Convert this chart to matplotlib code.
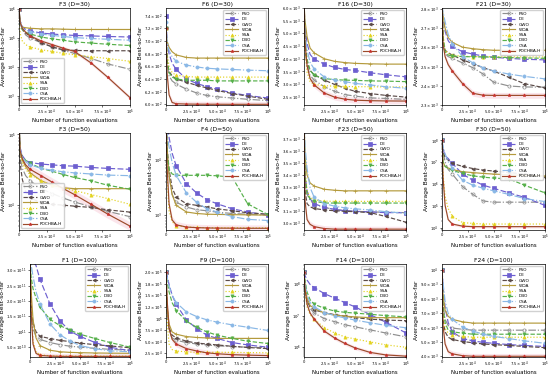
import numpy as np
import matplotlib
matplotlib.use("Agg")
import matplotlib.pyplot as plt
from matplotlib.ticker import FixedLocator, FixedFormatter, NullLocator

# evaluation checkpoints (thousands of function evaluations)
evals = np.array([0, 1, 3, 6, 10, 20, 30, 40, 50, 65, 80, 100]) * 1e3

algos = ["PSO", "DE", "GWO", "WOA", "SSA", "DBO", "CSA", "POCHBA-H"]

# --- F3 (D=30) ---
f3_30 = [
    [1e6, 4e5, 2e5, 1.3e5, 1e5, 7e4, 5e4, 3.8e4, 3e4, 2e4, 1.3e4, 8.5e3],
    [1e6, 4e5, 2.5e5, 2e5, 1.8e5, 1.5e5, 1.4e5, 1.3e5, 1.25e5, 1.2e5, 1.15e5, 1.1e5],
    [1e6, 3e5, 2e5, 1.5e5, 1.2e5, 7e4, 5e4, 4e4, 3.8e4, 3.7e4, 3.7e4, 3.7e4],
    [1e6, 3e5, 2.4e5, 2.3e5, 2.2e5, 2.1e5, 2.1e5, 2.05e5, 2e5, 2e5, 2e5, 2e5],
    [1e6, 1.5e5, 8e4, 6e4, 5e4, 4e4, 3.5e4, 3e4, 2.7e4, 2.3e4, 2e4, 1.6e4],
    [1e6, 3e5, 2e5, 1.6e5, 1.4e5, 1.1e5, 9.5e4, 8.5e4, 7.5e4, 6.8e4, 6.2e4, 5.6e4],
    [1e6, 3e5, 2.2e5, 1.9e5, 1.7e5, 1.4e5, 1.25e5, 1.15e5, 1.05e5, 9.8e4, 9.2e4, 8.5e4],
    [1e6, 3.5e5, 2.2e5, 1.6e5, 1.2e5, 8e4, 6e4, 4.5e4, 3.5e4, 1.4e4, 4.5e3, 9e2],
]
# --- F6 (D=30) ---
f6_30 = [
    [720, 665, 645, 637, 632, 624, 618, 614, 612, 610, 608, 606],
    [740, 700, 680, 665, 655, 640, 633, 628, 624, 618, 614, 610],
    [720, 670, 652, 645, 640, 635, 630, 626, 622, 617, 613, 608],
    [720, 700, 690, 683, 678, 674, 673, 673, 673, 673, 673, 673],
    [720, 680, 660, 650, 646, 644, 643, 643, 643, 643, 643, 643],
    [720, 670, 650, 643, 640, 638, 638, 638, 637, 637, 637, 637],
    [730, 700, 685, 675, 668, 662, 659, 657, 656, 655, 654, 653],
    [720, 650, 615, 603, 601, 600.5, 600.3, 600.2, 600.2, 600.1, 600.1, 600.1],
]
# --- F16 (D=30) ---
f16_30 = [
    [6200, 4360, 3730, 3350, 3160, 2900, 2720, 2590, 2530, 2460, 2440, 2400],
    [6200, 5250, 4610, 4170, 3980, 3790, 3660, 3580, 3540, 3450, 3370, 3290],
    [6200, 4490, 3850, 3540, 3370, 3160, 2990, 2840, 2720, 2630, 2560, 2490],
    [6200, 5500, 4870, 4420, 4230, 4000, 3900, 3850, 3820, 3800, 3790, 3790],
    [6200, 4360, 3470, 3100, 2990, 2940, 2920, 2910, 2900, 2900, 2890, 2890],
    [6200, 4740, 3980, 3540, 3350, 3220, 3180, 3160, 3150, 3130, 3120, 3100],
    [6200, 4990, 4360, 3850, 3600, 3280, 3160, 3100, 3030, 2970, 2900, 2840],
    [6200, 4610, 3730, 3220, 2970, 2650, 2490, 2410, 2370, 2350, 2340, 2335],
]
# --- F21 (D=30) ---
f21_30 = [
    [2820, 2618, 2568, 2552, 2543, 2519, 2494, 2461, 2419, 2399, 2394, 2393],
    [2820, 2750, 2684, 2635, 2605, 2577, 2565, 2555, 2548, 2543, 2538, 2535],
    [2820, 2635, 2585, 2572, 2560, 2535, 2515, 2494, 2477, 2444, 2411, 2389],
    [2820, 2767, 2700, 2651, 2626, 2601, 2593, 2588, 2585, 2585, 2585, 2585],
    [2820, 2668, 2585, 2568, 2560, 2553, 2552, 2552, 2551, 2551, 2550, 2550],
    [2820, 2651, 2577, 2560, 2555, 2552, 2551, 2550, 2549, 2547, 2545, 2543],
    [2820, 2784, 2734, 2668, 2618, 2552, 2519, 2494, 2477, 2461, 2449, 2436],
    [2820, 2618, 2552, 2510, 2477, 2411, 2361, 2351, 2350, 2350, 2350, 2350],
]
# --- F3 (D=50) ---
f3_50 = [
    [1.5e5, 4.8e4, 3.3e4, 2.6e4, 2.2e4, 1.7e4, 1.45e4, 1.25e4, 1.1e4, 9.4e3, 8.1e3, 6.8e3],
    [1.5e5, 6.5e4, 5e4, 4.3e4, 4e4, 3.8e4, 3.7e4, 3.6e4, 3.55e4, 3.4e4, 3.3e4, 3.2e4],
    [1.5e5, 3.9e4, 2.3e4, 1.55e4, 1.25e4, 1.08e4, 1.02e4, 9.9e3, 9.6e3, 9.2e3, 8.5e3, 7.9e3],
    [1.5e5, 5.9e4, 4.3e4, 3.5e4, 2.85e4, 2.2e4, 1.9e4, 1.75e4, 1.7e4, 1.7e4, 1.7e4, 1.7e4],
    [1.5e5, 5.3e4, 3.9e4, 3.2e4, 2.7e4, 2.2e4, 1.9e4, 1.75e4, 1.6e4, 1.4e4, 1.23e4, 1.02e4],
    [1.5e5, 5.9e4, 4.8e4, 4.3e4, 3.9e4, 3.3e4, 3e4, 2.7e4, 2.45e4, 2.2e4, 1.9e4, 1.67e4],
    [1.5e5, 6.2e4, 4.8e4, 4.1e4, 3.7e4, 3.3e4, 3.1e4, 2.95e4, 2.85e4, 2.75e4, 2.65e4, 2.6e4],
    [1.5e5, 5.9e4, 4.5e4, 3.7e4, 3.2e4, 2.6e4, 2.1e4, 1.7e4, 1.4e4, 1.02e4, 7.4e3, 5e3],
]
# --- F4 (D=50) ---
f4_50 = [
    [1e5, 1.3e4, 5.2e3, 2.35e3, 1.7e3, 1.4e3, 1.25e3, 1.2e3, 1.13e3, 1.07e3, 1.04e3, 1e3],
    [1e5, 5e4, 2.5e4, 1.3e4, 7.7e3, 3.7e3, 2.5e3, 1.9e3, 1.6e3, 1.3e3, 1.14e3, 1e3],
    [1e5, 1.7e4, 6.7e3, 3.1e3, 2.1e3, 1.6e3, 1.5e3, 1.4e3, 1.3e3, 1.2e3, 1.1e3, 1.04e3],
    [1e5, 1.7e4, 5.2e3, 2.35e3, 1.5e3, 1.14e3, 1.07e3, 1.04e3, 1.03e3, 1.02e3, 1.01e3, 1e3],
    [1e5, 5.2e3, 1.2e3, 770, 650, 610, 600, 595, 592, 590, 590, 590],
    [1e5, 1.3e4, 6.7e3, 5.5e3, 5.2e3, 5.2e3, 5.2e3, 5.2e3, 5.1e3, 4.8e3, 1.6e3, 1.02e3],
    [1e5, 2.9e4, 1.7e4, 8.8e3, 5.2e3, 2.5e3, 1.7e3, 1.3e3, 1.14e3, 940, 840, 800],
    [1e5, 7.7e3, 1.6e3, 820, 670, 610, 595, 588, 584, 582, 580, 580],
]
# --- F23 (D=50) ---
f23_50 = [
    [3900, 3373, 3240, 3187, 3155, 3128, 3112, 3101, 3096, 3091, 3088, 3085],
    [3900, 3400, 3267, 3200, 3160, 3128, 3112, 3101, 3096, 3091, 3085, 3085],
    [3900, 3267, 3160, 3133, 3120, 3107, 3101, 3096, 3093, 3085, 3053, 3005],
    [3900, 3560, 3400, 3333, 3307, 3280, 3272, 3267, 3267, 3267, 3267, 3267],
    [3900, 3453, 3267, 3213, 3192, 3181, 3179, 3179, 3179, 3179, 3179, 3179],
    [3900, 3400, 3240, 3200, 3181, 3165, 3165, 3165, 3165, 3165, 3165, 3165],
    [3900, 3640, 3453, 3293, 3213, 3160, 3139, 3125, 3117, 3107, 3093, 3080],
    [3900, 3187, 3027, 2987, 2968, 2952, 2947, 2947, 2947, 2947, 2947, 2947],
]
# --- F30 (D=50) ---
f30_50 = [
    [1e8, 2.9e7, 1.07e7, 4.7e6, 2.9e6, 7.7e5, 3.4e5, 1.7e5, 1.5e5, 1.5e5, 1.5e5, 1.5e5],
    [1e8, 4e7, 2e7, 1.5e7, 9e6, 2.9e6, 1.5e6, 9e5, 6.5e5, 4e5, 2.5e5, 1.07e5],
    [1e8, 2.9e7, 1.7e7, 1.26e7, 9e6, 6.5e6, 5.2e6, 4.4e6, 4e6, 3.4e6, 2.9e6, 2.2e6],
    [1e8, 1.07e7, 6.5e6, 5.5e6, 4.7e6, 3.7e6, 3.4e6, 3.1e6, 2.9e6, 2.7e6, 2.5e6, 2.4e6],
    [1e8, 2.9e6, 2.85e5, 7.7e4, 3.4e4, 1.75e4, 1.6e4, 1.5e4, 1.5e4, 1.5e4, 1.5e4, 1.5e4],
    [1e8, 1.07e7, 6.5e6, 5.2e6, 4.3e6, 3.1e6, 2.4e6, 2.1e6, 1.9e6, 1.75e6, 9e5, 4e5],
    [1e8, 5.5e7, 2.5e7, 1.07e7, 5.5e6, 1.5e6, 9e5, 6.5e5, 5e5, 3.4e5, 2.2e5, 1.6e5],
    [1e8, 2.1e6, 1.07e5, 2.4e4, 1.5e4, 1.2e4, 1.14e4, 1.14e4, 1.14e4, 1.14e4, 1.14e4, 1.14e4],
]
# --- F1 (D=100) ---
f1_100 = [
    [3.5e11, 1.7e11, 1.1e11, 8.5e10, 7.5e10, 6.5e10, 5.8e10, 5.3e10, 5e10, 4.6e10, 4.3e10, 4e10],
    [3.5e11, 3.4e11, 3.3e11, 3.15e11, 2.7e11, 1.9e11, 1.35e11, 1.02e11, 8.5e10, 6.5e10, 5e10, 3.8e10],
    [3.5e11, 1.9e11, 1.3e11, 1e11, 8.5e10, 7.8e10, 7.2e10, 6.8e10, 6.3e10, 5.8e10, 5.4e10, 4.8e10],
    [3.5e11, 2.4e11, 1.4e11, 8e10, 5.5e10, 4e10, 3.5e10, 3.3e10, 3.2e10, 3.1e10, 3.05e10, 3e10],
    [3.5e11, 1.9e11, 7e10, 3.5e10, 2.5e10, 2.2e10, 2.1e10, 2.1e10, 2.1e10, 2.1e10, 2.1e10, 2.1e10],
    [3.5e11, 2.8e11, 2.4e11, 2.1e11, 1.8e11, 1.4e11, 1.2e11, 1.05e11, 9.2e10, 7.8e10, 6.5e10, 5e10],
    [3.5e11, 3.2e11, 2.8e11, 2.3e11, 1.9e11, 1.25e11, 9e10, 7e10, 5.5e10, 4.5e10, 3.8e10, 3.5e10],
    [3.5e11, 1.7e11, 6e10, 3e10, 2.3e10, 2.1e10, 2e10, 2e10, 2e10, 2e10, 2e10, 2e10],
]
# --- F9 (D=100) ---
f9_100 = [
    [2e5, 1.17e5, 7.4e4, 5.8e4, 5.3e4, 4.8e4, 4.5e4, 4.3e4, 4.1e4, 3.95e4, 3.8e4, 3.7e4],
    [2e5, 1.93e5, 1.73e5, 1.5e5, 1.3e5, 9.7e4, 7.8e4, 6.4e4, 5.7e4, 4.8e4, 4.3e4, 3.8e4],
    [2e5, 1.24e5, 8.1e4, 6.4e4, 5.8e4, 5.1e4, 4.7e4, 4.5e4, 4.3e4, 4e4, 3.75e4, 3.5e4],
    [2e5, 1.3e5, 8.8e4, 7.1e4, 6.6e4, 6.1e4, 5.9e4, 5.8e4, 5.7e4, 5.7e4, 5.7e4, 5.7e4],
    [2e5, 9.7e4, 4.5e4, 3.3e4, 3e4, 2.8e4, 2.7e4, 2.7e4, 2.7e4, 2.7e4, 2.65e4, 2.6e4],
    [2e5, 1.8e5, 1.57e5, 1.34e5, 1.17e5, 9.4e4, 8.1e4, 7.1e4, 6.4e4, 5.7e4, 5.1e4, 4.6e4],
    [2e5, 1.89e5, 1.7e5, 1.5e5, 1.34e5, 1.14e5, 1.04e5, 9.7e4, 9.2e4, 8.6e4, 8.1e4, 7.4e4],
    [2e5, 1.43e5, 7.8e4, 5.5e4, 4.5e4, 3.5e4, 3e4, 2.6e4, 2.4e4, 2.2e4, 2.1e4, 2e4],
]
# --- F14 (D=100) ---
f14_100 = [
    [2.4e8, 7e7, 2.9e7, 1.7e7, 1.2e7, 8e6, 6.4e6, 5.1e6, 4.4e6, 3.5e6, 2.8e6, 2.1e6],
    [2.4e8, 1.9e8, 1.35e8, 9.8e7, 7.8e7, 5e7, 3.6e7, 2.6e7, 1.9e7, 1.07e7, 6.2e6, 2.8e6],
    [2.4e8, 7e7, 2.9e7, 1.9e7, 1.5e7, 1.25e7, 1.07e7, 9.6e6, 8.6e6, 7.7e6, 7.2e6, 6.9e6],
    [2.4e8, 8.8e7, 3.6e7, 2.1e7, 1.7e7, 1.2e7, 1.04e7, 9.6e6, 9.1e6, 8.6e6, 8.6e6, 8.6e6],
    [2.4e8, 5.6e7, 1.9e7, 1.07e7, 7.7e6, 4.1e6, 2.8e6, 2.1e6, 1.8e6, 1.45e6, 1.17e6, 9.8e5],
    [2.4e8, 1.35e8, 5.6e7, 3.2e7, 2.3e7, 1.7e7, 1.4e7, 1.27e7, 1.2e7, 1.1e7, 1e7, 9.1e6],
    [2.4e8, 1.1e8, 4.5e7, 2.6e7, 1.9e7, 1.25e7, 1e7, 8.4e6, 7.2e6, 5.9e6, 4.9e6, 4.1e6],
    [2.4e8, 7e7, 2.3e7, 1.2e7, 7.7e6, 3.2e6, 1.94e6, 1.3e6, 9.4e5, 6.7e5, 5.6e5, 5.1e5],
]
# --- F24 (D=100) ---
f24_100 = [
    [10000, 7620, 6560, 6130, 5960, 5870, 5810, 5810, 5810, 5810, 5810, 5810],
    [10000, 8900, 7410, 6340, 5700, 5230, 5070, 4960, 4900, 4810, 4750, 4680],
    [10000, 6560, 5700, 5320, 5170, 5020, 4940, 4850, 4810, 4750, 4680, 4600],
    [10000, 8260, 7200, 6770, 6560, 6390, 6300, 6300, 6300, 6300, 6300, 6300],
    [10000, 6980, 5920, 5600, 5490, 5380, 5320, 5320, 5320, 5320, 5320, 5320],
    [10000, 7410, 6340, 5810, 5700, 5600, 5530, 5530, 5530, 5530, 5530, 5530],
    [10000, 9110, 7830, 6980, 6560, 6020, 5750, 5530, 5380, 5230, 5070, 4900],
    [10000, 6130, 4850, 4320, 4170, 4040, 4000, 4000, 4000, 4000, 4000, 4000],
]

styles = {
    "PSO": dict(color="#8f8f8f", ls="-.", marker="o", mfc="none"),
    "DE": dict(color="#6d5fd0", ls=(0, (5, 2)), marker="s"),
    "GWO": dict(color="#5b4b48", ls="--", marker="<"),
    "WOA": dict(color="#b49a3c", ls="-", marker="+"),
    "SSA": dict(color="#e3d320", ls=":", marker="^"),
    "DBO": dict(color="#56b04a", ls="--", marker="v"),
    "CSA": dict(color="#8ab8e6", ls="-.", marker="o"),
    "POCHBA-H": dict(color="#9c4a2a", ls="-", marker="*", mec="#d03030"),
}


def sci(v):
    m, e = f"{v:.1e}".split("e")
    e = int(e)
    if m == "1.0":
        return rf"$10^{{{e}}}$"
    return rf"${m}\times10^{{{e}}}$"


panels = [
    ("F3 (D=30)", f3_30, "log", None, (5e2, 1.1e6), "lower left"),
    ("F6 (D=30)", f6_30, "linear", [600, 620, 640, 660, 680, 700, 720, 740], (599, 752), "upper right"),
    ("F16 (D=30)", f16_30, "linear", [2500, 3000, 3500, 4000, 4500, 5000, 5500, 6000], (2180, 6000), "upper right"),
    ("F21 (D=30)", f21_30, "linear", [2300, 2400, 2500, 2600, 2700, 2800], (2300, 2805), "upper right"),
    ("F3 (D=50)", f3_50, "log", None, (4.4e3, 1.05e5), "lower left"),
    ("F4 (D=50)", f4_50, "log", None, (540, 3e4), "upper right"),
    ("F23 (D=50)", f23_50, "linear", [3000, 3100, 3200, 3300, 3400, 3500, 3600, 3700], (2940, 3750), "upper right"),
    ("F30 (D=50)", f30_50, "log", None, (8e3, 2.2e8), "upper right"),
    ("F1 (D=100)", f1_100, "linear", [5e10, 1e11, 1.5e11, 2e11, 2.5e11, 3e11], (1.8e10, 3.2e11), "upper right"),
    ("F9 (D=100)", f9_100, "linear", [2.5e4, 5e4, 7.5e4, 1e5, 1.25e5, 1.5e5, 1.75e5, 2e5], (1.7e4, 2.17e5), "upper right"),
    ("F14 (D=100)", f14_100, "log", None, (4.8e5, 4.4e8), "upper right"),
    ("F24 (D=100)", f24_100, "linear", [4000, 5000, 6000, 7000, 8000, 9000, 10000], (3950, 10400), "upper right"),
]

W, H = 550, 376
fig = plt.figure(figsize=(5.5, 3.76), dpi=100)
col_l = [[19, 166, 304, 442], [19, 166, 304, 442], [30, 166, 304, 442]]
col_r = [130, 268, 406, 545]
row_t = [8, 133, 264]
row_h = [97, 97, 93]

for i, (title, data, scale, yt, ylim, loc) in enumerate(panels):
    r, c = divmod(i, 4)
    left = col_l[r][c]
    ax = fig.add_axes([left / W, 1 - (row_t[r] + row_h[r]) / H, (col_r[c] - left) / W, row_h[r] / H])
    poch = np.array(data[7])
    if scale == "log":
        lo, hi = poch / 1.15, poch * 1.15
    else:
        d = 0.03 * (ylim[1] - ylim[0])
        lo, hi = poch - d, poch + d
    ax.fill_between(evals, lo, hi, color="#f4b6c8", alpha=0.35, lw=0)
    for name, ys in zip(algos, data):
        st = dict(styles[name])
        ax.plot(evals, ys, lw=0.85, ms=2.3, mew=0.5, markevery=[0] + list(range(4, 12)),
                label=name, **st)
    ax.set_yscale(scale)
    ax.set_xlim(0, 1e5)
    ax.set_ylim(*ylim)
    if yt is not None:
        ax.yaxis.set_major_locator(FixedLocator(yt))
        ax.yaxis.set_major_formatter(FixedFormatter([sci(v) for v in yt]))
        ax.yaxis.set_minor_locator(NullLocator())
    xt = [0, 2.5e4, 5e4, 7.5e4, 1e5]
    ax.xaxis.set_major_locator(FixedLocator(xt))
    ax.xaxis.set_major_formatter(FixedFormatter(["0", r"$2.5\times10^4$", r"$5.0\times10^4$",
                                                 r"$7.5\times10^4$", r"$10^5$"]))
    ax.tick_params(labelsize=2.7, length=1.5, width=0.4, pad=0.8)
    ax.tick_params(which="minor", length=0.8, width=0.3)
    for s in ax.spines.values():
        s.set_linewidth(0.5)
    ax.set_title(title, fontsize=4.3, pad=1.5)
    ax.set_xlabel("Number of function evaluations", fontsize=3.9, labelpad=0.5)
    ax.set_ylabel("Average Best-so-far", fontsize=4.3, labelpad=0.8)
    ax.legend(loc=loc, fontsize=3.1, handlelength=3.2, labelspacing=0.3, borderpad=0.4,
              framealpha=0.9, edgecolor="#cccccc")

fig.savefig("out.png", dpi=100)
